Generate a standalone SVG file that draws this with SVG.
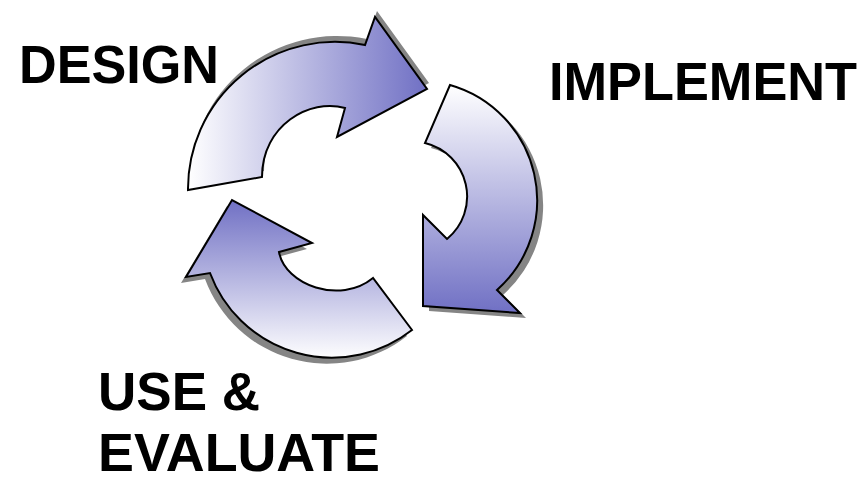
<svg xmlns="http://www.w3.org/2000/svg" width="866" height="477" viewBox="0 0 866 477">
<defs>
<style>
.lbl{font-family:"Liberation Sans",Arial,sans-serif;font-weight:bold;font-size:53px;fill:#000}
.arrow{stroke:#000;stroke-width:2;stroke-linejoin:miter}
.shadow{fill:#858585;filter:url(#blur)}
</style>
<filter id="blur" x="-10%" y="-10%" width="120%" height="120%"><feGaussianBlur stdDeviation="0.5"/></filter>
<linearGradient id="g1" gradientUnits="userSpaceOnUse" x1="188" y1="0" x2="427" y2="0">
<stop offset="0" stop-color="#ffffff"/><stop offset="1" stop-color="#7070c4"/>
</linearGradient>
<linearGradient id="g2" gradientUnits="userSpaceOnUse" x1="0" y1="85" x2="0" y2="313">
<stop offset="0" stop-color="#ffffff"/><stop offset="1" stop-color="#7070c4"/>
</linearGradient>
<linearGradient id="g3" gradientUnits="userSpaceOnUse" x1="0" y1="200" x2="0" y2="360">
<stop offset="0" stop-color="#7070c4"/><stop offset="1" stop-color="#ffffff"/>
</linearGradient>
<path id="p1" d="M188,190 A147,147 0 0 1 365,45 L375,17 L427,89 L337,137 L345,108 C310,98 262,125 262,177 Z"/>
<path id="p2" d="M450,85 A120,120 0 0 1 497,290 L520,313 L423,306 L423,215 L447,239 A55,55 0 0 0 425,143 Z"/>
<path id="p3" d="M412,330 A130,130 0 0 1 210,273 L186,277 L232,200 L312,243 L279,252 C285,285 340,305 373,278 Z"/>
</defs>
<rect width="866" height="477" fill="#fff"/>
<g id="connectors">
<g id="arrow-design">
<use href="#p1" class="shadow" transform="translate(2,-6)"/>
<use href="#p1" class="arrow" fill="url(#g1)"/>
</g>
<g id="arrow-implement">
<use href="#p2" class="shadow" transform="translate(6,5)"/>
<use href="#p2" class="arrow" fill="url(#g2)"/>
</g>
<g id="arrow-use">
<use href="#p3" class="shadow" transform="translate(-5,6)"/>
<use href="#p3" class="arrow" fill="url(#g3)"/>
</g>
</g>
<g id="design"><text class="lbl" x="19" y="83" textLength="200" lengthAdjust="spacingAndGlyphs">DESIGN</text></g>
<g id="implement"><text class="lbl" x="549" y="100" textLength="308" lengthAdjust="spacingAndGlyphs">IMPLEMENT</text></g>
<g id="use-evaluate"><text class="lbl" x="98" y="410">USE &amp;</text><text class="lbl" x="98" y="471" textLength="282" lengthAdjust="spacingAndGlyphs">EVALUATE</text></g>
</svg>
